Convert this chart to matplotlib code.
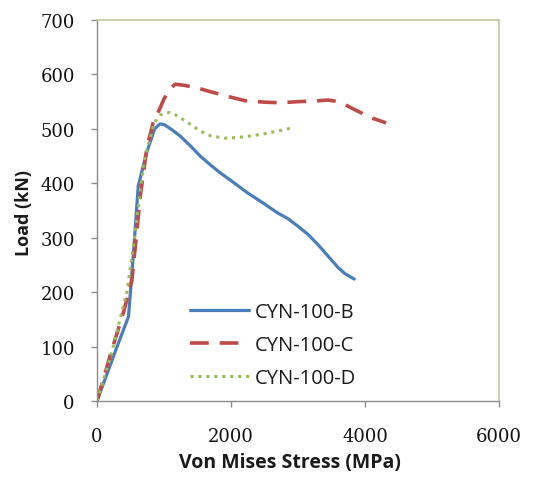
import matplotlib
matplotlib.use("Agg")
import matplotlib.pyplot as plt

# Data
b_x = [0, 150, 300, 470, 545, 615, 740, 860, 940, 1000, 1100, 1240, 1400, 1540, 1700, 1840, 2000,
       2240, 2500, 2690, 2850, 2990, 3150, 3300, 3450, 3600, 3700, 3840]
b_y = [0, 50, 100, 155, 273, 395, 456, 500, 509, 508, 500, 487, 468, 450, 433, 419, 405,
       383, 362, 346, 335, 322, 306, 287, 266, 245, 234, 224]

c_x = [0, 200, 395, 520, 650, 750, 795, 845, 930, 1000, 1080, 1165, 1300, 1500, 1700, 1940, 2200,
       2500, 2740, 3000, 3240, 3450, 3600, 3740, 3900, 4100, 4315]
c_y = [0, 85, 163, 221, 380, 470, 490, 515, 535, 555, 572, 582, 580, 575, 568, 560, 552,
       549, 548, 550, 551, 553, 550, 542, 532, 520, 511]

d_x = [0, 220, 445, 560, 700, 850, 940, 1000, 1090, 1200, 1350, 1540, 1700, 1900, 2090, 2300,
       2500, 2700, 2915]
d_y = [0, 89, 200, 300, 440, 510, 525, 529, 530, 524, 512, 496, 487, 483, 484, 487,
       491, 496, 502]

labels = ["CYN-100-B", "CYN-100-C", "CYN-100-D"]
x_ticks = [0, 2000, 4000, 6000]
y_ticks = [0, 100, 200, 300, 400, 500, 600, 700]

fig = plt.figure(figsize=(5.34, 4.89), dpi=100)
ax = fig.add_axes([97/534, 1 - 402/489, 402/534, 381/489])

ax.plot(b_x, b_y, color="#4a7ebb", lw=2.3, solid_capstyle="round", solid_joinstyle="round",
        label=labels[0])
ax.plot(c_x, c_y, color="#be4b48", lw=2.6, dashes=(5.2, 3), label=labels[1])
ax.plot(d_x, d_y, color="#9bbb59", lw=2.2, dashes=(1, 1.6), label=labels[2])

ax.set_xlim(0, 6000)
ax.set_ylim(0, 700)
ax.set_xticks(x_ticks)
ax.set_yticks(y_ticks)

for s in ["left", "bottom"]:
    ax.spines[s].set_color("#8c8c8c")
    ax.spines[s].set_linewidth(1.0)
for s in ["right", "top"]:
    ax.spines[s].set_color("#c4c7a0")
    ax.spines[s].set_linewidth(1.2)

ax.tick_params(axis="both", direction="out", length=4, width=1, color="#8c8c8c",
               labelsize=13, labelcolor="#111111")
ax.tick_params(axis="y", pad=12)
ax.tick_params(axis="x", pad=15)
for lab in ax.get_xticklabels() + ax.get_yticklabels():
    lab.set_fontfamily("DejaVu Serif")

ax.set_xlabel("Von Mises Stress (MPa)", fontsize=14, fontweight="bold",
              family="Open Sans", color="#1a1a1a")
ax.set_ylabel("Load (kN)", fontsize=13, fontweight="bold",
              family="Open Sans", color="#1a1a1a")
ax.xaxis.set_label_coords(0.48, -0.135)
ax.yaxis.set_label_coords(-0.16, 0.495)

leg = ax.legend(loc="upper left", bbox_to_anchor=(0.212, 0.28), frameon=False,
                prop={"family": "Open Sans", "size": 14.5}, handlelength=2.9,
                handletextpad=0.3, labelspacing=0.64, borderaxespad=0)
for t in leg.get_texts():
    t.set_color("#1a1a1a")

fig.savefig("out.png", dpi=100)
